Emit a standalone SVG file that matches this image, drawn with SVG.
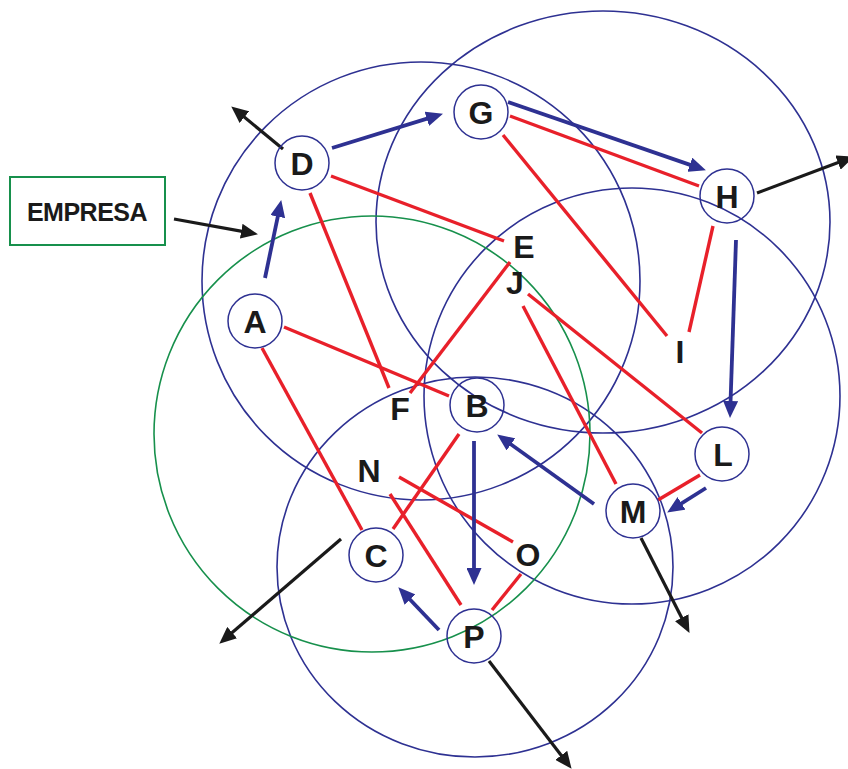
<svg xmlns="http://www.w3.org/2000/svg" width="848" height="769" viewBox="0 0 848 769">
  <style>
    .zone { fill: none; stroke: #2e3192; stroke-width: 1.6; }
    .zone-green { fill: none; stroke: #17904c; stroke-width: 1.6; }
    .node { fill: none; stroke: #2e3192; stroke-width: 1.5; }
    .lbl { font-family: "Liberation Sans", Arial, sans-serif; font-weight: bold; font-size: 32px; fill: #1a1a1a; text-anchor: middle; }
    .box { fill: #ffffff; stroke: #17904c; stroke-width: 2; }
    .box-lbl { font-family: "Liberation Sans", Arial, sans-serif; font-weight: bold; font-size: 25px; fill: #1a1a1a; text-anchor: middle; letter-spacing: -0.5px; }
    .link { stroke: #e8202a; stroke-width: 3.4; fill: none; }
    .flow { stroke: #2e3192; stroke-width: 3.8; fill: none; marker-end: url(#head-blue); }
    .out { stroke: #1a1a1a; stroke-width: 3.2; fill: none; marker-end: url(#head-black); }
  </style>
  <defs>
    <marker id="head-blue" markerUnits="userSpaceOnUse" markerWidth="17" markerHeight="15" refX="8" refY="7.5" orient="auto">
      <path d="M0,0 L17,7.5 L0,15 z" fill="#2e3192"/>
    </marker>
    <marker id="head-black" markerUnits="userSpaceOnUse" markerWidth="17" markerHeight="15" refX="8" refY="7.5" orient="auto">
      <path d="M0,0 L17,7.5 L0,15 z" fill="#1a1a1a"/>
    </marker>
  </defs>

  <rect width="848" height="769" fill="#ffffff"/>

  <!-- areas of influence -->
  <g id="zones">
    <circle class="zone" cx="421" cy="281" r="219"/>
    <ellipse class="zone" cx="603" cy="222" rx="227" ry="211"/>
    <circle class="zone" cx="632" cy="396" r="208"/>
    <ellipse class="zone" cx="475" cy="567" rx="198" ry="190"/>
    <circle class="zone-green" cx="372" cy="434" r="218"/>
  </g>

  <!-- connectors -->
  <g id="connectors">
    <!-- red links -->
    <line class="link" x1="331" y1="176" x2="504" y2="241"/>
    <line class="link" x1="310" y1="193" x2="389" y2="388"/>
    <line class="link" x1="510" y1="116" x2="699" y2="186"/>
    <line class="link" x1="503" y1="135" x2="667" y2="336"/>
    <line class="link" x1="713" y1="226" x2="689" y2="332"/>
    <line class="link" x1="284" y1="327" x2="449" y2="396"/>
    <line class="link" x1="262" y1="348" x2="362" y2="530"/>
    <line class="link" x1="510" y1="262" x2="410" y2="393"/>
    <line class="link" x1="528" y1="294" x2="702" y2="433"/>
    <line class="link" x1="523" y1="306" x2="616" y2="484"/>
    <line class="link" x1="700" y1="475" x2="658" y2="500"/>
    <line class="link" x1="459" y1="434" x2="393" y2="529"/>
    <line class="link" x1="399" y1="477" x2="513" y2="542"/>
    <line class="link" x1="390" y1="494" x2="461" y2="605"/>
    <line class="link" x1="521" y1="574" x2="492" y2="610"/>

    <!-- blue flows -->
    <line class="flow" x1="265" y1="278" x2="279.4" y2="208.8"/>
    <line class="flow" x1="332" y1="148" x2="434.4" y2="116.4"/>
    <line class="flow" x1="508" y1="102" x2="697.4" y2="167.4"/>
    <line class="flow" x1="736" y1="240" x2="730.3" y2="409"/>
    <line class="flow" x1="706" y1="488" x2="674.8" y2="507.7"/>
    <line class="flow" x1="594" y1="504" x2="504.5" y2="439.7"/>
    <line class="flow" x1="474" y1="441" x2="474" y2="576"/>
    <line class="flow" x1="439" y1="630" x2="404.5" y2="593.8"/>

    <!-- black outward arrows -->
    <line class="out" x1="283" y1="149" x2="238.2" y2="112.1"/>
    <line class="out" x1="174" y1="219" x2="249.1" y2="232.6"/>
    <line class="out" x1="757" y1="193" x2="845.5" y2="159.8"/>
    <line class="out" x1="341" y1="539" x2="226.1" y2="637.8"/>
    <line class="out" x1="641" y1="538" x2="685.4" y2="624.9"/>
    <line class="out" x1="489" y1="661" x2="566.1" y2="761.7"/>
  </g>

  <!-- label box -->
  <g id="empresa">
    <rect class="box" x="10" y="177" width="155" height="68"/>
    <text class="box-lbl" x="87" y="221">EMPRESA</text>
  </g>

  <!-- circled nodes -->
  <g id="node-D"><circle class="node" cx="302" cy="163" r="27"/><text class="lbl" x="302" y="175">D</text></g>
  <g id="node-G"><circle class="node" cx="481" cy="112" r="27"/><text class="lbl" x="481" y="124">G</text></g>
  <g id="node-H"><circle class="node" cx="727" cy="196" r="27"/><text class="lbl" x="727" y="208">H</text></g>
  <g id="node-A"><circle class="node" cx="255" cy="321" r="27"/><text class="lbl" x="255" y="333">A</text></g>
  <g id="node-B"><circle class="node" cx="477" cy="405" r="27"/><text class="lbl" x="477" y="417">B</text></g>
  <g id="node-L"><circle class="node" cx="722" cy="454" r="27"/><text class="lbl" x="723" y="466">L</text></g>
  <g id="node-M"><circle class="node" cx="633" cy="511" r="27"/><text class="lbl" x="633" y="523">M</text></g>
  <g id="node-C"><circle class="node" cx="376" cy="555" r="27"/><text class="lbl" x="376" y="567">C</text></g>
  <g id="node-P"><circle class="node" cx="474" cy="636" r="27"/><text class="lbl" x="474" y="648">P</text></g>

  <!-- plain nodes -->
  <g id="node-E"><text class="lbl" x="524" y="258">E</text></g>
  <g id="node-J"><text class="lbl" x="515" y="294">J</text></g>
  <g id="node-I"><text class="lbl" x="680" y="363">I</text></g>
  <g id="node-F"><text class="lbl" x="400" y="420">F</text></g>
  <g id="node-N"><text class="lbl" x="369" y="482">N</text></g>
  <g id="node-O"><text class="lbl" x="528" y="566">O</text></g>
</svg>
